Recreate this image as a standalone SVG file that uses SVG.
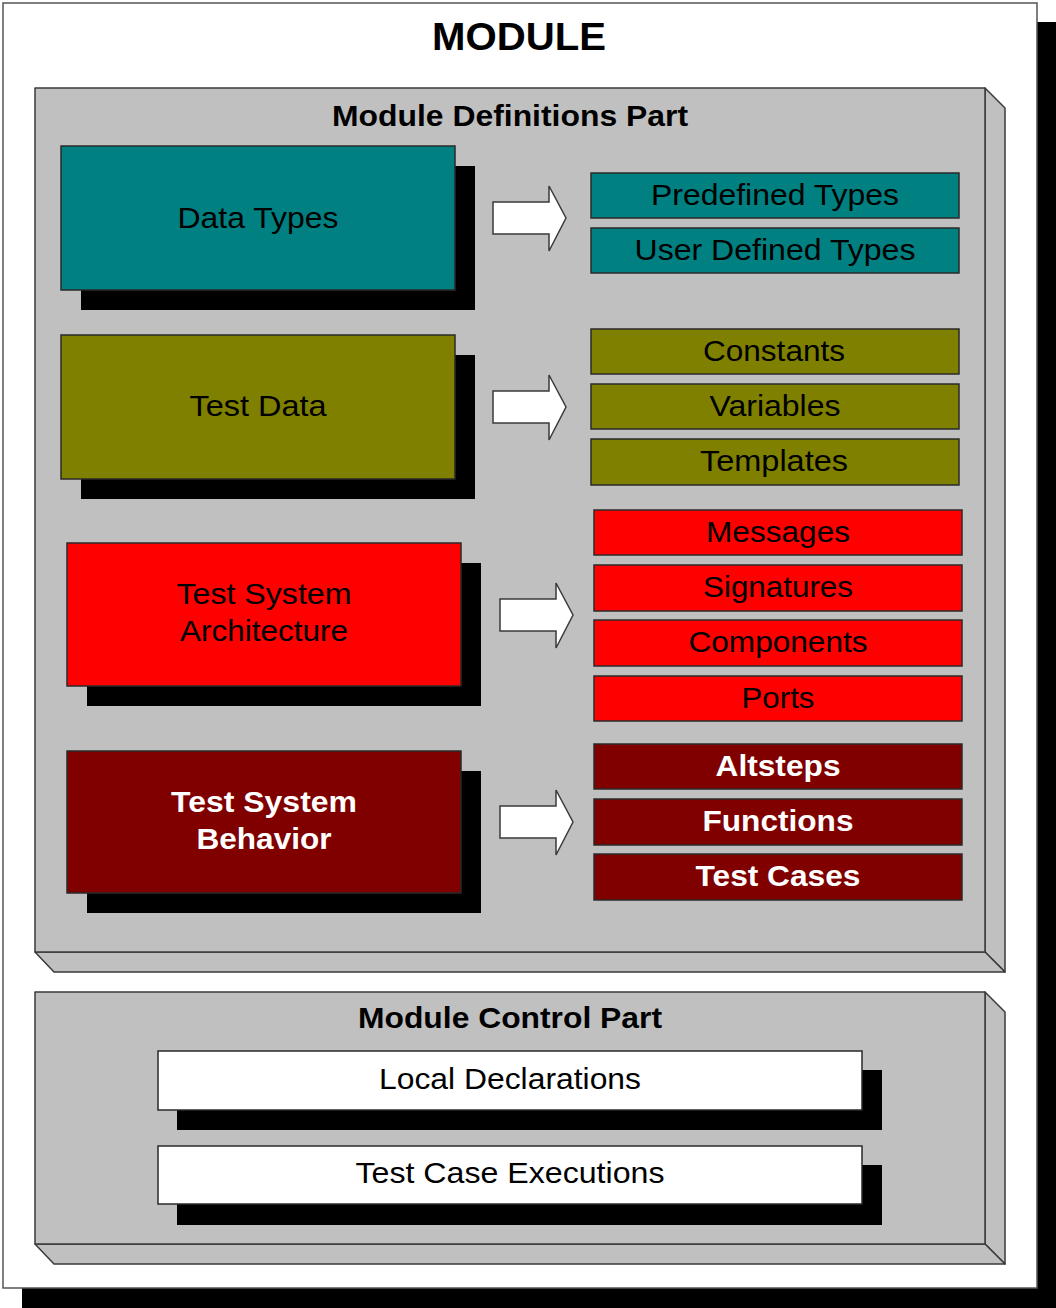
<svg xmlns="http://www.w3.org/2000/svg" width="1056" height="1308" viewBox="0 0 1056 1308">
  <style>
    .t { font-family: "Liberation Sans", Arial, sans-serif; text-anchor: middle; }
    .b { font-weight: bold; }
    .shadow { fill: #000; }
    .face { stroke: #2a2a2a; stroke-width: 1.5; }
    .part { fill: #c0c0c0; stroke: #3a3a3a; stroke-width: 1.5; stroke-linejoin: round; }
    .teal { fill: #008080; }
    .olive { fill: #808000; }
    .red { fill: #ff0000; }
    .maroon { fill: #800000; }
    .white { fill: #ffffff; }
    .arrow { fill: #ffffff; stroke: #3a3a3a; stroke-width: 1.5; stroke-linejoin: miter; }
  </style>
  <defs>
    <!-- block arrow pointing right, origin at its left/centre -->
    <path id="blockArrow" d="M0,-16 H56 V-32 L73,0 L56,33 V16 H0 Z"/>
  </defs>

  <rect width="1056" height="1308" fill="#ffffff"/>

  <!-- outer module frame with drop shadow -->
  <g id="module">
    <rect class="shadow" x="22" y="22" width="1034" height="1286"/>
    <rect x="3" y="3" width="1034" height="1285" fill="#ffffff" stroke="#555" stroke-width="1.5"/>
    <text class="t b" x="519" y="50" font-size="38" textLength="174" lengthAdjust="spacingAndGlyphs">MODULE</text>
  </g>

  <!-- definitions part: bevelled slab -->
  <g id="definitions-part">
    <polygon class="part" points="985,88 1005,108 1005,972 985,952"/>
    <polygon class="part" points="35,952 985,952 1005,972 54,972"/>
    <rect class="part" x="35" y="88" width="950" height="864"/>
    <text class="t b" x="510" y="126" font-size="30" textLength="356" lengthAdjust="spacingAndGlyphs">Module Definitions Part</text>
  </g>

  <!-- control part: bevelled slab -->
  <g id="control-part">
    <polygon class="part" points="985,992 1005,1012 1005,1264 985,1244"/>
    <polygon class="part" points="35,1244 985,1244 1005,1264 54,1264"/>
    <rect class="part" x="35" y="992" width="950" height="252"/>
    <text class="t b" x="510" y="1028" font-size="30" textLength="304" lengthAdjust="spacingAndGlyphs">Module Control Part</text>
  </g>

  <!-- category nodes -->
  <g id="data-types">
    <rect class="shadow" x="81" y="166" width="394" height="144"/>
    <rect class="face teal" x="61" y="146" width="394" height="144"/>
    <text class="t" x="258" y="228" font-size="30" textLength="161" lengthAdjust="spacingAndGlyphs">Data Types</text>
  </g>
  <g id="test-data">
    <rect class="shadow" x="81" y="355" width="394" height="144"/>
    <rect class="face olive" x="61" y="335" width="394" height="144"/>
    <text class="t" x="258" y="416" font-size="30" textLength="137" lengthAdjust="spacingAndGlyphs">Test Data</text>
  </g>
  <g id="test-system-architecture">
    <rect class="shadow" x="87" y="563" width="394" height="143"/>
    <rect class="face red" x="67" y="543" width="394" height="143"/>
    <text class="t" x="264" y="604" font-size="30" textLength="175" lengthAdjust="spacingAndGlyphs">Test System</text>
    <text class="t" x="264" y="641" font-size="30" textLength="168" lengthAdjust="spacingAndGlyphs">Architecture</text>
  </g>
  <g id="test-system-behavior">
    <rect class="shadow" x="87" y="771" width="394" height="142"/>
    <rect class="face maroon" x="67" y="751" width="394" height="142"/>
    <text class="t b" x="264" y="812" font-size="30" fill="#ffffff" textLength="186" lengthAdjust="spacingAndGlyphs">Test System</text>
    <text class="t b" x="264" y="849" font-size="30" fill="#ffffff" textLength="135" lengthAdjust="spacingAndGlyphs">Behavior</text>
  </g>

  <!-- item nodes: data types -->
  <g id="predefined-types">
    <rect class="face teal" x="591" y="173" width="368" height="45"/>
    <text class="t" x="775" y="205" font-size="30" textLength="248" lengthAdjust="spacingAndGlyphs">Predefined Types</text>
  </g>
  <g id="user-defined-types">
    <rect class="face teal" x="591" y="228" width="368" height="45"/>
    <text class="t" x="775" y="260" font-size="30" textLength="281" lengthAdjust="spacingAndGlyphs">User Defined Types</text>
  </g>

  <!-- item nodes: test data -->
  <g id="constants">
    <rect class="face olive" x="591" y="329" width="368" height="45"/>
    <text class="t" x="774" y="361" font-size="30" textLength="142" lengthAdjust="spacingAndGlyphs">Constants</text>
  </g>
  <g id="variables">
    <rect class="face olive" x="591" y="384" width="368" height="45"/>
    <text class="t" x="775" y="416" font-size="30" textLength="131" lengthAdjust="spacingAndGlyphs">Variables</text>
  </g>
  <g id="templates">
    <rect class="face olive" x="591" y="439" width="368" height="46"/>
    <text class="t" x="774" y="471" font-size="30" textLength="148" lengthAdjust="spacingAndGlyphs">Templates</text>
  </g>

  <!-- item nodes: test system architecture -->
  <g id="messages">
    <rect class="face red" x="594" y="510" width="368" height="45"/>
    <text class="t" x="778" y="542" font-size="30" textLength="144" lengthAdjust="spacingAndGlyphs">Messages</text>
  </g>
  <g id="signatures">
    <rect class="face red" x="594" y="565" width="368" height="46"/>
    <text class="t" x="778" y="597" font-size="30" textLength="150" lengthAdjust="spacingAndGlyphs">Signatures</text>
  </g>
  <g id="components">
    <rect class="face red" x="594" y="620" width="368" height="46"/>
    <text class="t" x="778" y="652" font-size="30" textLength="179" lengthAdjust="spacingAndGlyphs">Components</text>
  </g>
  <g id="ports">
    <rect class="face red" x="594" y="676" width="368" height="45"/>
    <text class="t" x="778" y="708" font-size="30" textLength="73" lengthAdjust="spacingAndGlyphs">Ports</text>
  </g>

  <!-- item nodes: test system behaviour -->
  <g id="altsteps">
    <rect class="face maroon" x="594" y="744" width="368" height="45"/>
    <text class="t b" x="778" y="776" font-size="30" fill="#ffffff" textLength="125" lengthAdjust="spacingAndGlyphs">Altsteps</text>
  </g>
  <g id="functions">
    <rect class="face maroon" x="594" y="799" width="368" height="46"/>
    <text class="t b" x="778" y="831" font-size="30" fill="#ffffff" textLength="151" lengthAdjust="spacingAndGlyphs">Functions</text>
  </g>
  <g id="test-cases">
    <rect class="face maroon" x="594" y="854" width="368" height="46"/>
    <text class="t b" x="778" y="886" font-size="30" fill="#ffffff" textLength="165" lengthAdjust="spacingAndGlyphs">Test Cases</text>
  </g>

  <!-- control part nodes -->
  <g id="local-declarations">
    <rect class="shadow" x="177" y="1070" width="705" height="60"/>
    <rect class="face white" x="158" y="1051" width="704" height="59"/>
    <text class="t" x="510" y="1089" font-size="30" textLength="262" lengthAdjust="spacingAndGlyphs">Local Declarations</text>
  </g>
  <g id="test-case-executions">
    <rect class="shadow" x="177" y="1165" width="705" height="60"/>
    <rect class="face white" x="158" y="1146" width="704" height="58"/>
    <text class="t" x="510" y="1183" font-size="30" textLength="309" lengthAdjust="spacingAndGlyphs">Test Case Executions</text>
  </g>

  <!-- connectors: block arrows from categories to their items -->
  <g id="connectors">
    <use href="#blockArrow" class="arrow" x="493" y="218"/>
    <use href="#blockArrow" class="arrow" x="493" y="407"/>
    <use href="#blockArrow" class="arrow" x="500" y="615"/>
    <use href="#blockArrow" class="arrow" x="500" y="822"/>
  </g>
</svg>
